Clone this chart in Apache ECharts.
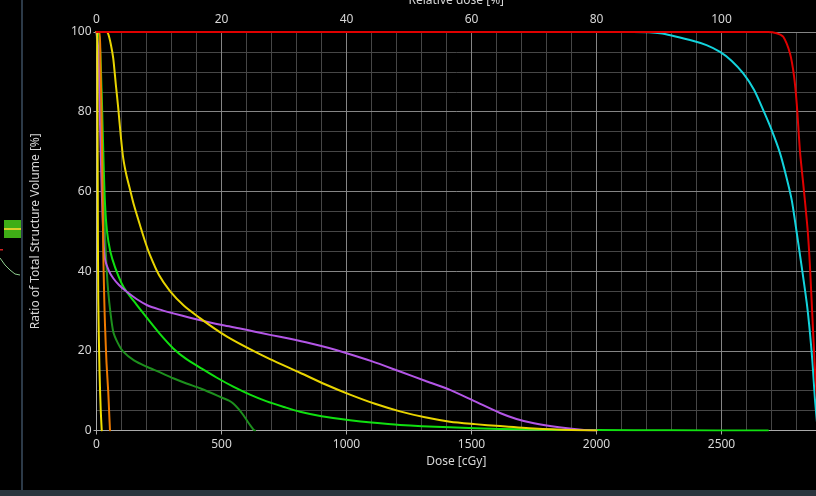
<!DOCTYPE html>
<html>
<head>
<meta charset="utf-8">
<script src="https://cdn.jsdelivr.net/npm/echarts@6/dist/echarts.min.js"></script>
<style>
  html, body { margin: 0; padding: 0; background: #000; }
  #chart { width: 816px; height: 496px; }
</style>
</head>
<body>
<div id="chart"></div>
<script>
// ---- Data (dose in cGy, volume in %) ----
const doseTicks = [0, 500, 1000, 1500, 2000, 2500];
const relTicks = [0, 20, 40, 60, 80, 100];
const volTicks = [0, 20, 40, 60, 80, 100];

const cyanDvh = [[0,100],[2146,100],[2254,99.7],[2374,98],[2440,96.7],[2494,95],[2540,92.8],[2587,89.6],[2630,85.5],[2667,80.4],[2700,75.5],[2734,69.6],[2760,63.5],[2781,57.8],[2800,50],[2821,41],[2841,32],[2854,24.4],[2864,17],[2874,7.7],[2885,0]];
const redDvh = [[0,100],[2600,100],[2686,100],[2720,99.7],[2747,98.8],[2774,94.6],[2790,89],[2801,82],[2814,70],[2830,60],[2845,50],[2854,41],[2867,24],[2875,14],[2890,0]];
const yellowDvh = [[0,100],[40,100],[47,99.5],[57,97],[67,93.4],[77,87],[87,80.9],[97,74],[107,68.3],[120,64],[134,60.5],[150,56.5],[174,51.5],[194,47.5],[214,44],[250,39],[294,35],[350,31.3],[414,28.2],[474,25.5],[534,23.1],[614,20.4],[694,17.9],[814,14.5],[914,11.6],[1014,9],[1114,6.7],[1214,4.8],[1314,3.3],[1414,2.2],[1514,1.6],[1614,1.1],[1750,0.5],[1900,0.1],[2000,0]];
const purpleDvh = [[0,100],[8,95],[14,77],[21,60],[28,48],[34,43],[50,40],[67,38.2],[90,36.5],[121,34.8],[160,33],[201,31.5],[250,30.4],[307,29.4],[374,28.3],[441,27.3],[507,26.4],[574,25.6],[634,24.8],[694,24],[774,23],[854,21.9],[930,20.7],[1001,19.4],[1100,17.4],[1214,14.8],[1314,12.5],[1414,10.2],[1514,7.3],[1614,4.4],[1680,2.9],[1750,1.8],[1850,0.8],[1950,0.1],[2000,0]];
const greenDvh = [[0,100],[8,100],[15,95],[22,82],[28,68],[34,57],[42,50],[55,45],[74,41],[100,37],[121,34.8],[160,31.6],[201,28.3],[250,24.5],[307,20.6],[360,17.9],[414,15.8],[480,13.3],[547,11],[614,9],[681,7.3],[750,5.9],[814,4.7],[900,3.6],[1014,2.6],[1100,2],[1214,1.4],[1414,0.8],[1614,0.4],[1800,0.2],[2000,0.1],[2300,0.05],[2686,0]];
const darkGreenDvh = [[0,100],[5,95],[12,85],[18,75],[23,65],[27,60],[35,48],[41,40],[47,34.8],[55,30],[67,24.8],[85,22],[107,19.8],[150,17.6],[201,16],[250,14.7],[307,13.1],[360,11.8],[414,10.6],[460,9.4],[507,8.1],[530,7.5],[547,6.8],[567,5.5],[587,3.9],[607,2],[627,0.3],[634,0]];
const orangeDvh = [[0,100],[12,100],[16,92],[20,80],[24,62],[27,45],[31,33],[34,26.5],[40,17],[47,9.7],[51,4],[54,0]];
const thinYellowDvh = [[0,100],[3,100],[4,80],[5,60],[7,33],[12,15],[17,5],[21,0]];

const doseMax = 2878;
const relScale = 25; // cGy per 1 % relative dose

const textColor = '#d6d6d6';
const font = 'Noto Sans';
const majorGrid = '#858585';
const minorGrid = '#464646';

function line(name, data, color, z) {
  return {
    name, type: 'line', data, xAxisIndex: 0, yAxisIndex: 0,
    showSymbol: false, symbol: 'none', smooth: 0.25,
    lineStyle: { color, width: 2, join: 'round', cap: 'round' }, itemStyle: { color }, z: z || 3,
    animation: false, silent: true
  };
}

const chart = echarts.init(document.getElementById('chart'), null, { renderer: 'canvas' });
chart.setOption({
  backgroundColor: '#000000',
  animation: false,
  textStyle: { fontFamily: font },
  grid: { left: 96.5, right: 0, top: 32, bottom: 65.5, containLabel: false, outerBoundsMode: 'none' },
  xAxis: [
    {
      type: 'value', position: 'bottom', min: 0, max: doseMax, interval: 500, z: 2,
      name: 'Dose [cGy]', nameLocation: 'middle', nameGap: 24,
      nameTextStyle: { color: textColor, fontSize: 12, fontFamily: font },
      axisLine: { show: true, lineStyle: { color: '#aaaaaa', width: 1 } },
      axisTick: { show: true, length: 4, lineStyle: { color: '#aaaaaa' } },
      axisLabel: { color: textColor, fontSize: 12, fontFamily: font, margin: 8, showMaxLabel: false,
        formatter: v => doseTicks.includes(v) ? String(v) : '' },
      splitLine: { show: true, lineStyle: { color: majorGrid, width: 1 } }
    },
    {
      type: 'value', position: 'top', min: 0, max: doseMax / relScale, interval: 20, z: 2,
      name: 'Relative dose [%]', nameLocation: 'middle', nameGap: 25,
      nameTextStyle: { color: textColor, fontSize: 12, fontFamily: font },
      axisLine: { show: false }, axisTick: { show: false },
      axisLabel: { color: textColor, fontSize: 12, fontFamily: font, margin: 6, showMaxLabel: false,
        formatter: v => relTicks.includes(v) ? String(v) : '' },
      splitLine: { show: false }
    },
    {
      type: 'value', position: 'bottom', min: 0, max: doseMax, interval: 100, z: 0,
      axisLine: { show: false }, axisTick: { show: false }, axisLabel: { show: false },
      splitLine: { show: true, lineStyle: { color: minorGrid, width: 1 } }
    }
  ],
  yAxis: [
    {
      type: 'value', min: 0, max: 100, interval: 20, z: 2,
      name: 'Ratio of Total Structure Volume [%]', nameLocation: 'middle', nameGap: 55,
      nameTextStyle: { color: textColor, fontSize: 12, fontFamily: font },
      axisLine: { show: true, lineStyle: { color: '#aaaaaa', width: 1 } },
      axisTick: { show: true, length: 3, lineStyle: { color: '#aaaaaa' } },
      axisLabel: { color: textColor, fontSize: 12, fontFamily: font, margin: 5,
        formatter: v => volTicks.includes(v) ? String(v) : '' },
      splitLine: { show: true, lineStyle: { color: majorGrid, width: 1 } },
      minorTick: { show: false, splitNumber: 4 },
      minorSplitLine: { show: true, lineStyle: { color: minorGrid, width: 1 } }
    }
  ],
  series: [
    line('Cyan', cyanDvh, '#13d3dc', 3),
    line('Dark green', darkGreenDvh, '#1d8f1d', 3),
    line('Green', greenDvh, '#10e010', 3),
    line('Purple', purpleDvh, '#b356e6', 3),
    line('Yellow', yellowDvh, '#e8d400', 3),
    line('Orange', orangeDvh, '#ee7a00', 3),
    line('Thin yellow', thinYellowDvh, '#f0e000', 3),
    line('Red', redDvh, '#e00000', 4)
  ],
  graphic: [
    { type: 'rect', shape: { x: 21, y: 0, width: 2, height: 496 }, style: { fill: '#2c3a48' }, silent: true },
    { type: 'rect', shape: { x: 0, y: 490, width: 816, height: 6 }, style: { fill: '#2a343d' }, silent: true },
    { type: 'rect', shape: { x: 4, y: 220, width: 17, height: 18 }, style: { fill: '#3fae16' }, silent: true },
    { type: 'rect', shape: { x: 4, y: 228, width: 17, height: 2 }, style: { fill: '#d8d02a' }, silent: true },
    { type: 'rect', shape: { x: 0, y: 249, width: 3, height: 1.5 }, style: { fill: '#d02020' }, silent: true },
    { type: 'polyline', shape: { points: [[0,258],[5,265],[10,270],[15,274],[20,275]] }, style: { stroke: '#8fcf8f', lineWidth: 1, fill: null }, silent: true }
  ]
});
</script>
</body>
</html>
